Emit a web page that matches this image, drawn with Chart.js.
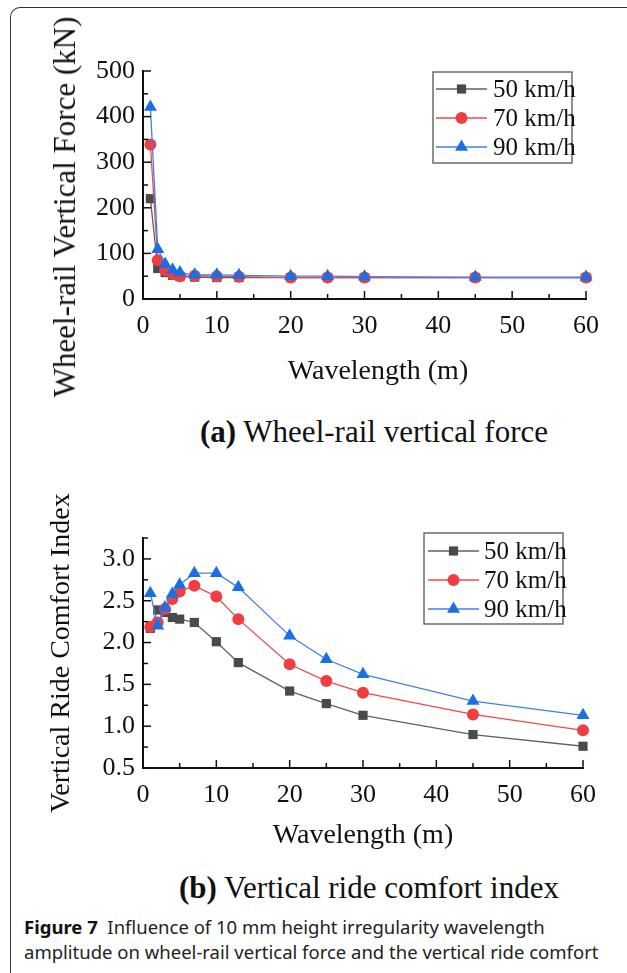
<!DOCTYPE html>
<html>
<head>
<meta charset="utf-8">
<title>Wavelength influence on force and ride comfort</title>
<script src="https://cdn.jsdelivr.net/npm/chart.js@4.4.1/dist/chart.umd.min.js"></script>
<style>
  html, body { margin: 0; padding: 0; background: #fff; }
  #page { position: relative; width: 627px; height: 973px; overflow: hidden;
          font-family: 'Liberation Serif', 'Times New Roman', serif; color: #111; }
  #frame { position: absolute; left: 10px; top: 7px; width: 700px; height: 1000px;
           border-left: 1.5px solid #333; border-top: 1.5px solid #333; border-top-left-radius: 10px; }
  canvas { position: absolute; left: 0; }
  #forceChart { top: 0; }
  #comfortChart { top: 470px; }
  .ytitle { position: absolute; white-space: nowrap; font-size: 31px;
            transform: translate(-50%, -50%) rotate(-90deg); }
  .xtitle, .sub { position: absolute; white-space: nowrap; transform: translate(-50%, -50%); }
  .xtitle { font-size: 28px; }
  .sub { font-size: 31px; }
  #caption { position: absolute; left: 24px; top: 914px; font-family: 'Noto Sans', sans-serif;
             font-size: 18.5px; line-height: 25px; color: #222; white-space: nowrap; }
  #caption b { color: #111; }
</style>
</head>
<body>
<div id="page">
  <div id="frame"></div>
  <canvas id="forceChart" width="627" height="400"></canvas>
  <canvas id="comfortChart" width="627" height="400"></canvas>
  <div class="ytitle" style="left:65px; top:207px;">Wheel-rail Vertical Force (kN)</div>
  <div class="xtitle" style="left:378px; top:370px;">Wavelength (m)</div>
  <div class="sub" style="left:374px; top:432px;"><b>(a)</b> Wheel-rail vertical force</div>
  <div class="sub" style="left:369px; top:888px;"><b>(b)</b> Vertical ride comfort index</div>
  <div id="caption"><b>Figure 7</b>&nbsp; Influence of 10 mm height irregularity wavelength<br>amplitude on wheel-rail vertical force and the vertical ride comfort</div>
</div>
<script>
// irregularity wavelengths (m)
const wavelengths = [1, 2, 3, 4, 5, 7, 10, 13, 20, 25, 30, 45, 60];

// wheel-rail vertical force (kN)
const force50 = [220, 67, 58, 52, 49, 48, 47, 47, 47, 47, 47, 47, 47];
const force70 = [339, 85, 63, 55, 50, 51, 50, 49, 47, 47, 47, 47, 47];
const force90 = [421, 109, 77, 64, 58, 53, 53, 52, 50, 50, 49, 48, 48];

// vertical ride comfort index
const comfort50 = [2.17, 2.39, 2.36, 2.30, 2.28, 2.24, 2.01, 1.76, 1.42, 1.27, 1.13, 0.90, 0.76];
const comfort70 = [2.19, 2.24, 2.40, 2.52, 2.61, 2.68, 2.55, 2.28, 1.74, 1.54, 1.40, 1.14, 0.95];
const comfort90 = [2.59, 2.20, 2.42, 2.58, 2.69, 2.83, 2.83, 2.66, 2.08, 1.80, 1.62, 1.30, 1.13];

const speedLabels = ['50 km/h', '70 km/h', '90 km/h'];
const xTicks = [0, 10, 20, 30, 40, 50, 60];
const forceTicks = [0, 100, 200, 300, 400, 500];
const comfortTicks = [0.5, 1.0, 1.5, 2.0, 2.5, 3.0];

const SERIF = "'Liberation Serif', 'Times New Roman', serif";
const INK = '#111';

const looks = [
  { line: '#606060', fill: '#4a4a4a', style: 'rect', r: 6.5 },
  { line: '#ef4a4a', fill: '#ef3e42', style: 'circle', r: 6 },
  { line: '#3f80e8', fill: '#1c6fe3', style: 'triangle', r: 7.5 }
];

function makeDatasets(series) {
  return series.map((vals, i) => ({
    label: speedLabels[i],
    data: wavelengths.map((w, k) => ({ x: w, y: vals[k] })),
    borderColor: looks[i].line,
    backgroundColor: looks[i].fill,
    borderWidth: 1.3,
    pointStyle: looks[i].style,
    pointRadius: looks[i].r,
    pointBackgroundColor: looks[i].fill,
    pointBorderWidth: 0,
    showLine: true,
    tension: 0,
    clip: false,
    order: 3 - i
  }));
}

// short inward ticks, major on labelled values and minor halfway between
const innerTicks = {
  id: 'innerTicks',
  afterDraw(chart, args, opts) {
    const { ctx, chartArea: a, scales } = chart;
    ctx.save();
    ctx.strokeStyle = INK;
    ctx.lineWidth = 1.5;
    const walk = (scale, step, majors, draw) => {
      for (let v = scale.min; v <= scale.max + 1e-9; v += step) {
        const major = majors.some(m => Math.abs(m - v) < 1e-6);
        draw(scale.getPixelForValue(v), major ? 8 : 5);
      }
    };
    walk(scales.x, opts.xMinor, xTicks, (p, len) => {
      ctx.beginPath(); ctx.moveTo(p, a.bottom); ctx.lineTo(p, a.bottom - len); ctx.stroke();
    });
    walk(scales.y, opts.yMinor, opts.yMajor, (p, len) => {
      ctx.beginPath(); ctx.moveTo(a.left, p); ctx.lineTo(a.left + len, p); ctx.stroke();
    });
    ctx.restore();
  }
};

// framed legend with a line sample through each marker
const boxLegend = {
  id: 'boxLegend',
  afterDraw(chart, args, o) {
    const { ctx, chartArea: a } = chart;
    const left = a.right - o.right - o.width;
    const top = a.top + o.top;
    ctx.save();
    ctx.fillStyle = '#fff';
    ctx.fillRect(left, top, o.width, o.height);
    ctx.strokeStyle = '#555';
    ctx.lineWidth = 1.3;
    ctx.strokeRect(left, top, o.width, o.height);
    chart.data.datasets.forEach((ds, i) => {
      const y = top + o.firstRow + i * o.rowGap;
      const x0 = left + o.lineStart;
      ctx.strokeStyle = ds.borderColor;
      ctx.lineWidth = ds.borderWidth;
      ctx.beginPath(); ctx.moveTo(x0, y); ctx.lineTo(x0 + o.lineLen, y); ctx.stroke();
      ctx.fillStyle = ds.pointBackgroundColor;
      Chart.helpers.drawPoint(ctx, { pointStyle: ds.pointStyle, radius: ds.pointRadius, borderWidth: 0, rotation: 0 },
        x0 + o.lineLen / 2, y);
      ctx.fillStyle = INK;
      ctx.font = '25px ' + SERIF;
      ctx.textBaseline = 'middle';
      ctx.textAlign = 'left';
      ctx.fillText(ds.label, left + o.textStart, y + 1);
    });
    ctx.restore();
  }
};

function xScale(height, title) {
  return {
    type: 'linear', min: 0, max: 60,
    afterBuildTicks: s => { s.ticks = xTicks.map(v => ({ value: v })); },
    afterFit: s => { s.height = height; s.paddingLeft = 0; s.paddingRight = 0; },
    grid: { display: false, drawTicks: false },
    border: { display: true, color: INK, width: 2 },
    ticks: { font: { family: SERIF, size: 26 }, color: INK, padding: 12, maxRotation: 0, autoSkip: false },
    title: title
      ? { display: true, text: title, color: INK, font: { family: SERIF, size: 28 }, padding: { top: 0, bottom: 0 } }
      : { display: false }
  };
}

function yScale(min, max, tickVals, digits, title) {
  return {
    type: 'linear', min: min, max: max,
    afterBuildTicks: s => { s.ticks = tickVals.map(v => ({ value: v })); },
    afterFit: s => { s.width = 143; s.paddingTop = 0; s.paddingBottom = 0; },
    grid: { display: false, drawTicks: false },
    border: { display: true, color: INK, width: 2 },
    ticks: { font: { family: SERIF, size: 26 }, color: INK, padding: 8, autoSkip: false,
             callback: v => Number(v).toFixed(digits) },
    title: title
      ? { display: true, text: title, color: INK, font: { family: SERIF, size: 28 }, padding: { top: 45, bottom: 0 } }
      : { display: false }
  };
}

const baseOptions = {
  responsive: false,
  animation: false,
  events: []
};

new Chart(document.getElementById('forceChart'), {
  type: 'scatter',
  data: { datasets: makeDatasets([force50, force70, force90]) },
  plugins: [innerTicks, boxLegend],
  options: {
    ...baseOptions,
    layout: { padding: { left: 0, top: 71, right: 41, bottom: 41 } },
    scales: {
      x: xScale(60, null),
      y: yScale(0, 500, forceTicks, 0, null)
    },
    plugins: {
      legend: { display: false },
      tooltip: { enabled: false },
      innerTicks: { xMinor: 5, yMinor: 50, yMajor: forceTicks },
      boxLegend: { right: 14, top: 1, width: 139, height: 91, firstRow: 17, rowGap: 29,
                   lineStart: 3, lineLen: 51, textStart: 60 }
    }
  }
});

new Chart(document.getElementById('comfortChart'), {
  type: 'scatter',
  data: { datasets: makeDatasets([comfort50, comfort70, comfort90]) },
  plugins: [innerTicks, boxLegend],
  options: {
    ...baseOptions,
    layout: { padding: { left: 0, top: 68, right: 44, bottom: 18 } },
    scales: {
      x: xScale(84, 'Wavelength (m)'),
      y: yScale(0.5, 3.25, comfortTicks, 1, 'Vertical Ride Comfort Index')
    },
    plugins: {
      legend: { display: false },
      tooltip: { enabled: false },
      innerTicks: { xMinor: 5, yMinor: 0.25, yMajor: comfortTicks },
      boxLegend: { right: 20, top: -5, width: 139, height: 91, firstRow: 18, rowGap: 29,
                   lineStart: 4, lineLen: 51, textStart: 60 }
    }
  }
});
</script>
</body>
</html>
